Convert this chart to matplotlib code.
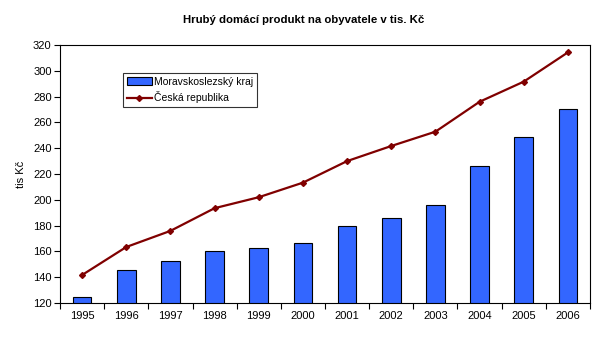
import matplotlib
matplotlib.use("Agg")
import matplotlib.pyplot as plt
import numpy as np

years = ["1995", "1996", "1997", "1998", "1999", "2000", "2001", "2002", "2003", "2004", "2005", "2006"]
msk = [124.5, 145.6, 152.6, 160.3, 162.6, 166.5, 179.8, 185.6, 196.0, 226.2, 248.4, 270.2]
cr = [141.7, 163.4, 175.9, 193.5, 202.0, 213.3, 230.0, 241.7, 252.8, 276.0, 291.6, 314.3]
yticks = [120, 140, 160, 180, 200, 220, 240, 260, 280, 300, 320]

plt.rcParams['font.family'] = ['Liberation Sans', 'DejaVu Sans']

fig = plt.figure(figsize=(6.08, 3.40), dpi=100)
W, H = 608, 340
ax = fig.add_axes([60 / W, 1 - 303 / H, 530 / W, 258 / H])

x = np.arange(len(years))
bars = ax.bar(x, msk, width=0.42, bottom=0, color='#3366FF', edgecolor='black', linewidth=0.8,
              label='Moravskoslezský kraj', zorder=2)
line, = ax.plot(x, cr, color='#800000', linewidth=1.6, marker='D', markersize=3,
                label='Česká republika', zorder=3)

ax.set_xlim(-0.5, len(years) - 0.5)
ax.set_ylim(120, 320)
ax.set_yticks(yticks)
ax.set_yticklabels([str(t) for t in yticks], fontsize=8)
ax.set_xticks(x)
ax.set_xticklabels(years, fontsize=8)
ax.tick_params(axis='x', length=0, pad=6)
ax.set_xticks(np.arange(-0.5, len(years), 1.0), minor=True)
ax.tick_params(axis='x', which='minor', length=4, direction='out', width=0.8)
ax.tick_params(axis='y', length=4, direction='out', width=0.8, pad=2)
for s in ax.spines.values():
    s.set_linewidth(0.8)
    s.set_color('black')

ax.set_ylabel('tis Kč', fontsize=8, labelpad=5)
fig.text(0.5, 1 - 20 / H, 'Hrubý domácí produkt na obyvatele v tis. Kč', ha='center', va='center',
         fontsize=8.2, fontweight='bold')

leg = ax.legend([bars, line], ['Moravskoslezský kraj', 'Česká republika'],
                loc='upper left', bbox_to_anchor=((123 - 60) / 530, (303 - 73) / 258),
                fontsize=7.5, frameon=True, fancybox=False, edgecolor='black',
                borderpad=0.35, handlelength=2.4, handletextpad=0.2, labelspacing=0.45,
                borderaxespad=0)
leg.get_frame().set_linewidth(0.8)

fig.savefig('out.png', dpi=100)
